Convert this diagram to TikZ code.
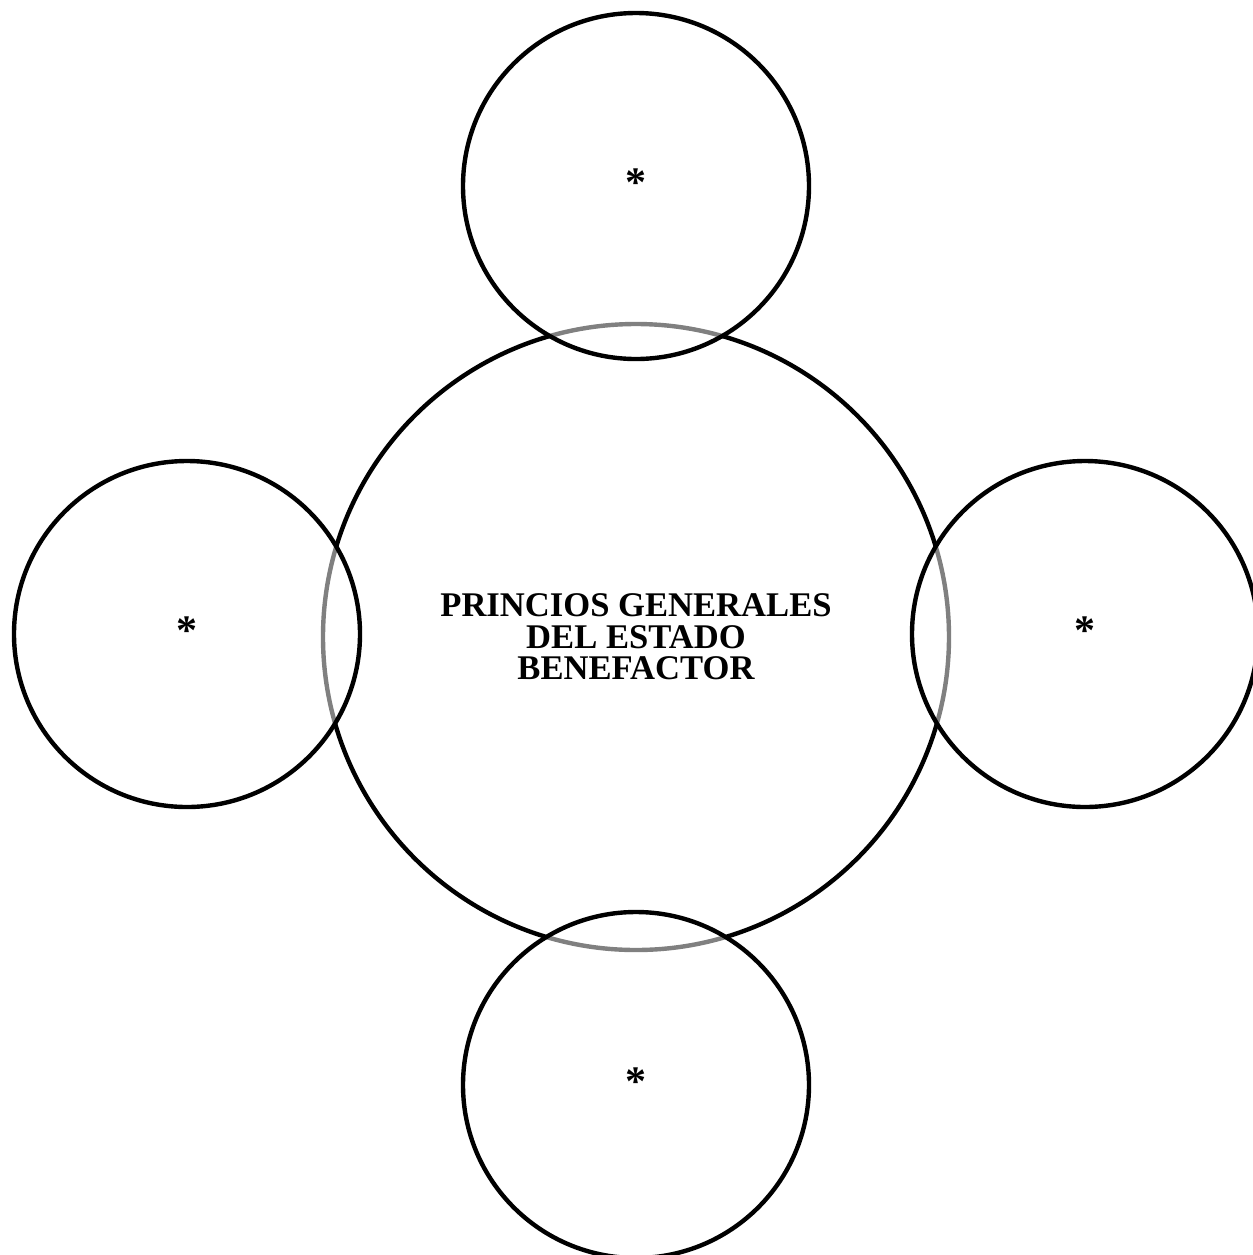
\documentclass[tikz,border=0pt]{standalone}
\usepackage{fontspec}
\setmainfont{Liberation Serif}
\usetikzlibrary{positioning}

\tikzset{
  centro/.style={circle, draw=black, line width=2.2pt, minimum size=313pt, inner sep=0pt,
    font=\fontsize{17.3}{15.8}\selectfont\bfseries, align=center},
  satelite/.style={circle, draw=black, line width=2.2pt, minimum size=173pt, inner sep=0pt,
    fill=white, fill opacity=0.5, text opacity=1},
  asterisco/.style={font=\fontsize{21}{21}\selectfont\bfseries, inner sep=0pt, anchor=base}
}

\begin{document}
\begin{tikzpicture}[x=0.5pt, y=-0.5pt]
  \useasboundingbox (0,0) rectangle (1253,1255);

  % Central circle
  \node[centro] (principios) at (636,637) {PRINCIOS GENERALES\\DEL ESTADO\\BENEFACTOR};

  % Surrounding circles
  \node[satelite] (arriba) at (636,186) {};
  \node[satelite] (izquierda) at (187,634) {};
  \node[satelite] (derecha) at (1085,634) {};
  \node[satelite] (abajo) at (636,1085) {};

  % Asterisks
  \foreach \c in {arriba, izquierda, derecha, abajo} {
    \node[asterisco] (ast-\c) at ([yshift=-5pt]\c.center) {*};
  }
\end{tikzpicture}
\end{document}
